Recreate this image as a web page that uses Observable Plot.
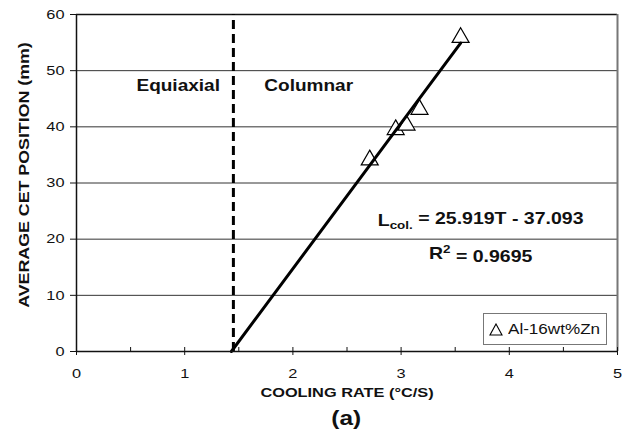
<!DOCTYPE html>
<html><head><meta charset="utf-8">
<script src="https://cdn.jsdelivr.net/npm/d3@7"></script>
<script src="https://cdn.jsdelivr.net/npm/@observablehq/plot@0.6"></script>
<style>
body{margin:0;background:#fff;font-family:"Liberation Sans",Arial,sans-serif;}
#wrap{position:relative;width:628px;height:433px;overflow:hidden;}
#cap{position:absolute;left:76px;width:541px;top:405px;text-align:center;font-weight:bold;font-size:20px;line-height:26px;color:#111;}
#cap span{display:inline-block;transform:scaleX(1.22);}
#legend{position:absolute;left:483px;top:313px;width:124px;height:32px;border:1px solid #777;box-sizing:border-box;background:#fff;display:flex;align-items:center;font-size:14px;color:#111;}
#legend svg{margin:0 0 0 5px;}
#legend span{display:inline-block;transform:scaleX(1.22);transform-origin:left center;margin-left:5px;}
</style></head><body><div id="wrap"></div>
<script>
// ---- data ----
const coolingRate = [2.71, 2.95, 3.05, 3.17, 3.55];     // °C/s
const cetPosition = [34.1, 39.5, 40.3, 43.1, 55.9];     // mm
const xTicks = [0, 1, 2, 3, 4, 5];
const xMinorTicks = [0.5, 1.5, 2.5, 3.5, 4.5];
const yTicks = [0, 10, 20, 30, 40, 50, 60];
const cetTransition = 1.45;
const fitSlope = 25.919;
const fitIntercept = -37.093;
const fitEnd = 3.55;
const rSquared = "0.9695";
const regionNames = ["Equiaxial", "Columnar"];
const regionX = [0.554, 1.736];
const regionY = [47.2, 47.2];
const eqX = [3.735, 3.735];
const eqY = [23.3, 17.4];
const seriesName = "Al-16wt%Zn";
const xTitle = "COOLING RATE (°C/S)";
const yTitle = "AVERAGE CET POSITION (mm)";
const caption = "(a)";

const K = 1.22; // horizontal stretch of the original's lettering

const points = coolingRate.map((x, i) => ({x, y: cetPosition[i]}));
const fitLine = [
  {x: -fitIntercept / fitSlope, y: 0},
  {x: fitEnd, y: fitSlope * fitEnd + fitIntercept}
];
const regions = regionNames.map((t, i) => ({t, x: regionX[i], y: regionY[i]}));

const chart = Plot.plot({
  width: 628, height: 405,
  marginLeft: 76, marginRight: 11, marginTop: 14, marginBottom: 54,
  style: {fontFamily: "Liberation Sans, Arial, sans-serif", fontSize: "13px", color: "#111", background: "#fff"},
  x: {domain: [0, 5]},
  y: {domain: [0, 60]},
  marks: [
    Plot.gridY(yTicks.slice(1, -1), {stroke: "#333", strokeOpacity: 1, strokeWidth: 1}),
    Plot.ruleY([60], {stroke: "#111", strokeWidth: 1.5}),
    Plot.ruleX([5], {stroke: "#777", strokeWidth: 2}),
    Plot.dot(points, {x: "x", y: "y", symbol: "triangle", r: 6.3, stroke: "#000", fill: "#fff", strokeWidth: 1.2}),
    Plot.ruleX([cetTransition], {y1: 0, y2: 60, stroke: "#000", strokeWidth: 3, strokeDasharray: "9,5"}),
    Plot.line(fitLine, {x: "x", y: "y", stroke: "#000", strokeWidth: 3}),
    Plot.ruleY([0], {stroke: "#111", strokeWidth: 1.5}),
    Plot.ruleX([0], {stroke: "#111", strokeWidth: 1.5}),
    Plot.ruleX(xTicks, {x: d => d, y1: 0, y2: 0, insetTop: 4, insetBottom: 4, stroke: "#111"}),
    Plot.ruleX(xMinorTicks, {x: d => d, y1: 0, y2: 0, insetTop: 0, insetBottom: 4, stroke: "#111"}),
    Plot.axisY(yTicks, {tickSize: 6, tickPadding: 6, label: null, fontSize: 13.4, stroke: "#111"}),
    Plot.axisX(xTicks, {tickSize: 0, tickPadding: 17, label: null, fontSize: 13.4}),
    Plot.text([xTitle], {frameAnchor: "bottom", dy: 45, fontWeight: "bold", fontSize: 13.4}),
    Plot.text([yTitle], {frameAnchor: "left", textAnchor: "middle", dx: -52, dy: -8, rotate: -90, fontWeight: "bold", fontSize: 14.6}),
    Plot.text(regions, {x: "x", y: "y", text: "t", textAnchor: "start", fontWeight: "bold", fontSize: 15.6}),
    Plot.text([0], {x: eqX[0], y: eqY[0], text: () => "EQ1", fontWeight: "bold", fontSize: 16, className: "eq1"}),
    Plot.text([0], {x: eqX[1], y: eqY[1], text: () => "EQ2", fontWeight: "bold", fontSize: 16, className: "eq2"})
  ]
});

// rich text for the regression equation
const s = d3.select(chart);
const t1 = s.select(".eq1 text").text(null);
t1.append("tspan").text("L");
t1.append("tspan").attr("font-size", "11px").attr("dy", "0.3em").text("col.");
t1.append("tspan").attr("dy", "-0.3em").text(` = ${fitSlope}T - ${Math.abs(fitIntercept)}`);
const t2 = s.select(".eq2 text").text(null);
t2.append("tspan").text("R");
t2.append("tspan").attr("font-size", "11px").attr("dy", "-0.55em").text("2");
t2.append("tspan").attr("dy", "0.55em").text(` = ${rSquared}`);

// widen every label along its reading direction, like the original's lettering
s.selectAll("text").each(function () {
  const tr = this.getAttribute("transform");
  if (tr) {
    this.setAttribute("transform", tr + ` scale(${K},1)`);
  } else {
    const x = +this.getAttribute("x") || 0, y = +this.getAttribute("y") || 0;
    this.setAttribute("transform", `translate(${x},${y}) scale(${K},1) translate(${-x},${-y})`);
  }
});

const wrap = document.getElementById("wrap");
wrap.appendChild(chart);

const leg = document.createElement("div");
leg.id = "legend";
leg.innerHTML = `<svg width="14" height="13"><path d="M7,1L13,12L1,12Z" fill="#fff" stroke="#000" stroke-width="1.1"/></svg><span>${seriesName}</span>`;
wrap.appendChild(leg);

const cap = document.createElement("div");
cap.id = "cap";
cap.innerHTML = `<span>${caption}</span>`;
wrap.appendChild(cap);
</script>
</body></html>
